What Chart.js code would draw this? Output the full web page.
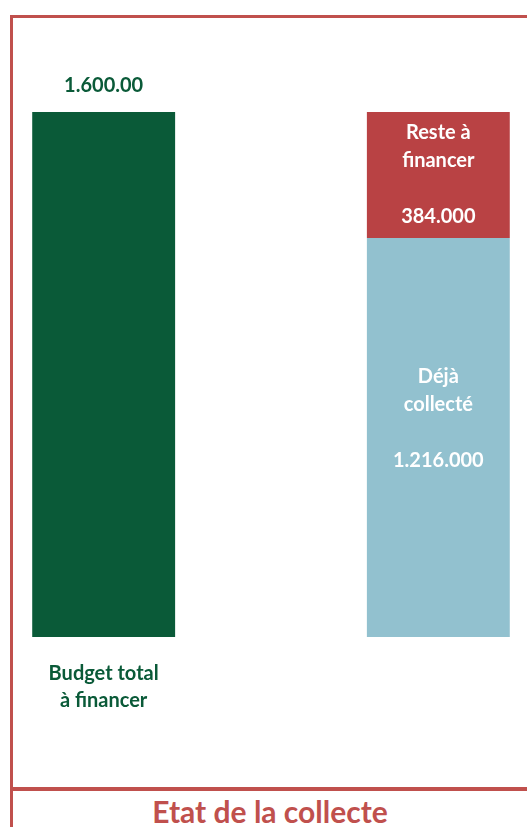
<!DOCTYPE html>
<html>
<head>
<meta charset="utf-8">
<script src="https://cdn.jsdelivr.net/npm/chart.js@4"></script>
<style>
  html, body { margin: 0; padding: 0; background: #fff; }
  body { width: 527px; height: 827px; position: relative; overflow: hidden; font-family: Lato, sans-serif; }
  #frame { position: absolute; left: 10px; top: 15px; width: 600px; height: 769px;
           border-left: 3px solid #c0504d; border-top: 3px solid #c0504d; border-bottom: 4px solid #c0504d; }
  #leftline { position: absolute; left: 10px; top: 780px; width: 3px; height: 60px; background: #c0504d; }
  #title { position: absolute; left: 13px; width: 514px; top: 794px; text-align: center;
           color: #c0504d; font-family: Lato, sans-serif; font-size: 30px; font-weight: 700; line-height: 34px; }
  #wrap { position: absolute; left: 0; top: 0; width: 527px; height: 780px; }
</style>
</head>
<body>
<div id="frame"></div>
<div id="leftline"></div>
<div id="wrap"><canvas id="c"></canvas></div>
<div id="title">Etat de la collecte</div>
<script>
const categories = [['Budget total', 'à financer'], '', ''];
const totalBudget = [1600, null, null];
const collected = [null, null, 1216];
const remaining = [null, null, 384];
const totalLabel = ['1.600.00'];
const collectedLabel = ['Déjà', 'collecté', '', '1.216.000'];
const remainingLabel = ['Reste à', 'financer', '', '384.000'];

const labelPlugin = {
  id: 'barLabels',
  afterDatasetsDraw(chart) {
    const ctx = chart.ctx;
    ctx.save();
    ctx.textAlign = 'center';
    ctx.textBaseline = 'middle';
    ctx.font = 'bold 20px Lato, sans-serif';
    chart.data.datasets.forEach((ds, di) => {
      const meta = chart.getDatasetMeta(di);
      meta.data.forEach((el, i) => {
        if (ds.data[i] == null) return;
        const lines = ds.labelLines;
        const top = Math.min(el.y, el.base), bot = Math.max(el.y, el.base);
        const cy = (top + bot) / 2;
        ctx.fillStyle = ds.labelColor;
        if (ds.labelPos === 'outside') {
          ctx.fillText(lines[0], el.x, top - 26);
        } else {
          const lh = 28;
          const start = cy + ds.labelShift - lh * (lines.length - 1) / 2;
          lines.forEach((t, k) => { if (t) ctx.fillText(t, el.x, start + k * lh); });
        }
      });
    });
    ctx.restore();
  }
};

new Chart(document.getElementById('c'), {
  type: 'bar',
  data: {
    labels: categories,
    datasets: [
      { label: 'Budget total à financer', data: totalBudget, backgroundColor: '#0a5a38',
        labelLines: totalLabel, labelPos: 'outside', labelColor: '#0a5a38', labelShift: 0 },
      { label: 'Déjà collecté', data: collected, backgroundColor: '#92c1cf',
        labelLines: collectedLabel, labelPos: 'inside', labelColor: '#ffffff', labelShift: -19 },
      { label: 'Reste à financer', data: remaining, backgroundColor: '#b94244',
        labelLines: remainingLabel, labelPos: 'inside', labelColor: '#ffffff', labelShift: 0 }
    ]
  },
  options: {
    responsive: true,
    maintainAspectRatio: false,
    animation: false,
    layout: { padding: { top: 112, left: 20, right: 5, bottom: 43 } },
    datasets: { bar: { barPercentage: 0.854, categoryPercentage: 1 } },
    plugins: { legend: { display: false }, tooltip: { enabled: false }, title: { display: false } },
    scales: {
      x: { stacked: true, grid: { display: false, drawTicks: false }, border: { display: false },
           ticks: { color: '#0a5a38', font: { family: 'Lato', size: 20, weight: 'bold', lineHeight: 1.35 },
                    padding: 23, maxRotation: 0, autoSkip: false } },
      y: { stacked: true, display: false, min: 0, max: 1600 }
    }
  },
  plugins: [labelPlugin]
});
</script>
</body>
</html>
